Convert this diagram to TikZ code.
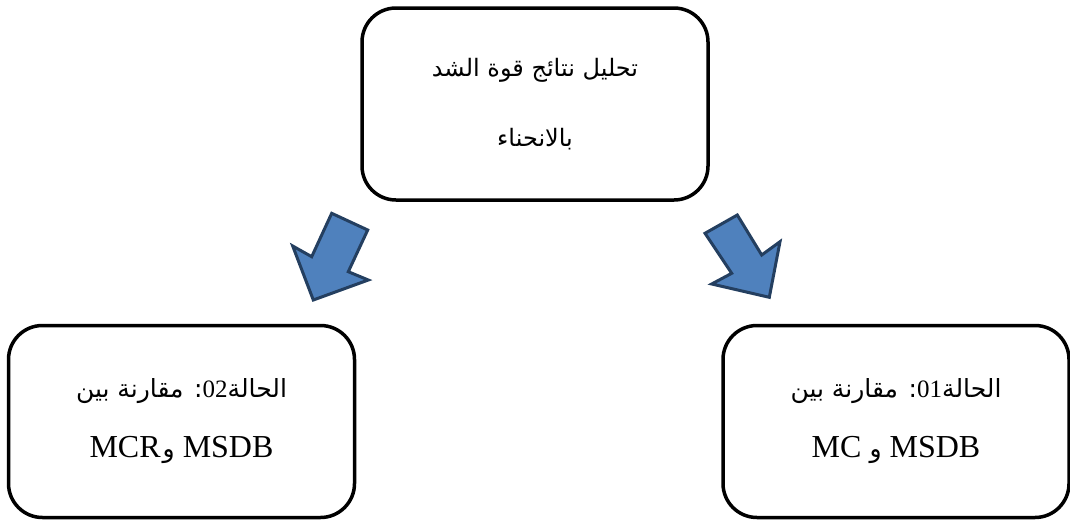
\documentclass[tikz,border=0pt]{standalone}
\usepackage{fontspec}
\setmainfont{Liberation Serif}
\newfontfamily\arabicfont[Script=Arabic]{DejaVu Sans}
\TeXXeTstate=1
\usetikzlibrary{positioning}
\definecolor{arrowfill}{HTML}{4F81BD}
\definecolor{arrowline}{HTML}{243F60}
\newcommand{\lat}[1]{{\rmfamily\fontsize{32pt}{60pt}\selectfont\beginL#1\endL}}
\newcommand{\num}[1]{{\rmfamily\beginL#1\endL}}

\begin{document}
\begin{tikzpicture}[x=1pt, y=-1pt,
    casebox/.style={draw, rounded corners=34pt, line width=3.5pt, minimum width=346pt, minimum height=192pt, align=center},
    blockarrow/.style={fill=arrowfill, draw=arrowline, line width=3pt, line join=miter}]
    \useasboundingbox (0,0) rectangle (1070,525);

    % Boxes
    \node[casebox, font=\fontsize{24pt}{70pt}\selectfont\arabicfont] (main) at (535,104)
        {\beginR تحليل نتائج قوة الشد\endR\\ \beginR بالانحناء\endR};
    \node[casebox, font=\fontsize{25pt}{60pt}\selectfont\arabicfont] (case2) at (181.5,421.5)
        {\beginR الحالة\num{02}: مقارنة بين\endR\\
         \beginR\lat{MSDB}\hspace{8pt}و\hspace{2pt}\lat{MCR}\endR};
    \node[casebox, font=\fontsize{25pt}{60pt}\selectfont\arabicfont] (case1) at (896,421.5)
        {\beginR الحالة\num{01}: مقارنة بين\endR\\
         \beginR\lat{MSDB}\hspace{8pt}و\hspace{8pt}\lat{MC}\endR};

    % Block arrows
    \draw[blockarrow] (331.7,213.3) -- (367.7,230) -- (348.3,271.7) -- (368.3,280)
        -- (313.3,300) -- (292.7,246) -- (311.7,256.7) -- cycle;
    \draw[blockarrow] (705,233.3) -- (737.3,215) -- (761.7,255) -- (780,241.7)
        -- (769.3,297.3) -- (711.7,284) -- (731.7,273.3) -- cycle;
\end{tikzpicture}
\end{document}
